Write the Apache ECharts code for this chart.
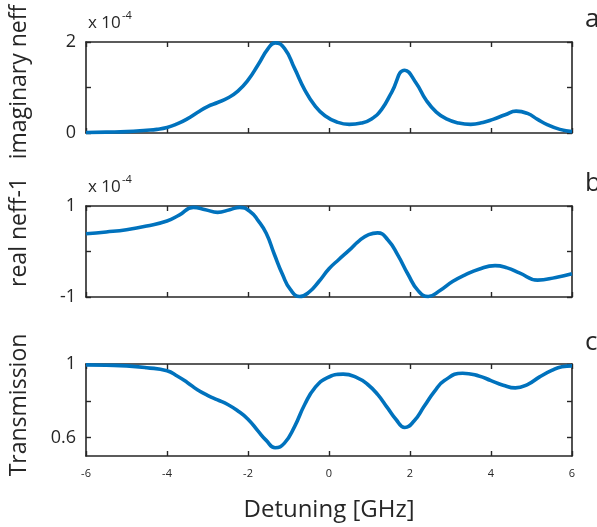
<!DOCTYPE html>
<html>
<head>
<meta charset="utf-8">
<script src="https://cdn.jsdelivr.net/npm/echarts@6/dist/echarts.min.js"></script>
<style>html,body{margin:0;padding:0;background:#fff}#c{width:597px;height:527px}</style>
</head>
<body>
<div id="c"></div>
<script>
// Panel a: imaginary neff (units of 1e-4) vs detuning [GHz]
var imagX = [-6, -5.5, -5, -4.5, -4.25, -4, -3.75, -3.5, -3.25, -3, -2.75, -2.5, -2.25, -2, -1.75, -1.5, -1.33, -1.1, -0.85, -0.6, -0.35, -0.1, 0.2, 0.5, 0.8, 1.05, 1.3, 1.55, 1.87, 2.15, 2.4, 2.65, 2.9, 3.2, 3.5, 3.8, 4.05, 4.35, 4.62, 4.9, 5.15, 5.4, 5.7, 6];
var imagY = [0.01, 0.02, 0.03, 0.06, 0.08, 0.12, 0.2, 0.31, 0.45, 0.58, 0.67, 0.77, 0.92, 1.16, 1.5, 1.86, 1.98, 1.86, 1.42, 0.95, 0.6, 0.38, 0.24, 0.19, 0.22, 0.31, 0.52, 0.9, 1.38, 1.1, 0.72, 0.46, 0.31, 0.22, 0.19, 0.23, 0.3, 0.4, 0.48, 0.43, 0.3, 0.18, 0.08, 0.03];
// Panel b: real neff - 1 (units of 1e-4)
var realX = [-6, -5.5, -5, -4.5, -4, -3.7, -3.35, -3.05, -2.75, -2.45, -2.2, -1.95, -1.75, -1.55, -1.35, -1.15, -0.95, -0.72, -0.5, -0.25, 0, 0.25, 0.5, 0.75, 0.98, 1.2, 1.45, 1.7, 1.95, 2.2, 2.45, 2.75, 3.05, 3.35, 3.7, 4.1, 4.4, 4.7, 5.15, 5.6, 6];
var realY = [0.39, 0.43, 0.48, 0.56, 0.67, 0.8, 0.97, 0.92, 0.86, 0.92, 0.97, 0.88, 0.68, 0.4, -0.06, -0.5, -0.84, -0.99, -0.9, -0.66, -0.38, -0.17, 0.03, 0.24, 0.37, 0.41, 0.26, -0.08, -0.5, -0.86, -0.99, -0.85, -0.66, -0.52, -0.39, -0.31, -0.36, -0.47, -0.63, -0.57, -0.49];
// Panel c: transmission
var transX = [-6, -5.5, -5, -4.5, -4, -3.75, -3.5, -3.25, -3, -2.75, -2.5, -2.25, -2, -1.75, -1.55, -1.33, -1.1, -0.85, -0.6, -0.35, -0.05, 0.35, 0.7, 0.95, 1.2, 1.45, 1.65, 1.87, 2.1, 2.35, 2.6, 2.85, 3.3, 3.7, 4.0, 4.3, 4.6, 4.9, 5.2, 5.5, 5.75, 6];
var transY = [0.995, 0.993, 0.99, 0.98, 0.963, 0.935, 0.9, 0.86, 0.83, 0.805, 0.78, 0.745, 0.70, 0.635, 0.585, 0.545, 0.57, 0.66, 0.78, 0.87, 0.925, 0.945, 0.925, 0.89, 0.835, 0.76, 0.7, 0.655, 0.69, 0.77, 0.85, 0.91, 0.95, 0.935, 0.91, 0.885, 0.87, 0.888, 0.93, 0.965, 0.985, 0.99];
var xTicks = [-6, -4, -2, 0, 2, 4, 6];

var FONT = 'Open Sans';
var AX = '#262626';
var LINE = '#0072BD';

function pairs(xs, ys) { return xs.map(function (x, i) { return [x, ys[i]]; }); }

var grids = [
  { left: 86, right: 25, top: 42, height: 91 },
  { left: 86, right: 25, top: 206, height: 91 },
  { left: 86, right: 25, top: 364, height: 92 }
];
var yCfg = [
  { min: 0, max: 2, ticks: [0, 1, 2], labels: [0, 2] },
  { min: -1, max: 1, ticks: [-1, 0, 1], labels: [-1, 1] },
  { min: 0.5, max: 1, ticks: [0.6, 0.8, 1], labels: [0.6, 1] }
];

var xAxes = [], yAxes = [];
for (var g = 0; g < 3; g++) {
  ['bottom', 'top'].forEach(function (pos) {
    xAxes.push({
      type: 'value', gridIndex: g, position: pos, min: -6, max: 6, interval: 2,
      axisLine: { show: true, onZero: false, lineStyle: { color: AX, width: 1.6 } },
      axisTick: { show: true, inside: true, length: 5, lineStyle: { color: AX, width: 1.4 } },
      axisLabel: { show: pos === 'bottom' && g === 2, fontFamily: FONT, fontSize: 11, color: AX, margin: 12,
        customValues: xTicks },
      splitLine: { show: false }
    });
  });
  (function (cfg) {
    ['left', 'right'].forEach(function (pos) {
      yAxes.push({
        type: 'value', gridIndex: g, position: pos, min: cfg.min, max: cfg.max,
        axisLine: { show: true, onZero: false, lineStyle: { color: AX, width: 1.6 } },
        axisTick: { show: true, inside: true, length: 5, customValues: cfg.ticks, lineStyle: { color: AX, width: 1.4 } },
        axisLabel: { show: pos === 'left', customValues: cfg.labels, formatter: function (v) { return String(v); },
          fontFamily: FONT, fontSize: 18, color: AX, margin: 10 },
        splitLine: { show: false }
      });
    });
  })(yCfg[g]);
}

var datasets = [pairs(imagX, imagY), pairs(realX, realY), pairs(transX, transY)];
var series = datasets.map(function (d, i) {
  return {
    type: 'line', xAxisIndex: i * 2, yAxisIndex: i * 2, data: d, smooth: 0.5,
    showSymbol: false, symbol: 'none', clip: false,
    lineStyle: { color: LINE, width: 3.6 }, animation: false
  };
});

function txt(left, top, text, size, extra) {
  var s = { text: text, fontFamily: FONT, fontSize: size, fill: AX };
  for (var k in extra) s[k] = extra[k];
  return { type: 'text', x: left, y: top, style: s, silent: true };
}
function vtxt(cx, cy, text) {
  return { type: 'text', x: cx, y: cy, rotation: Math.PI / 2, silent: true,
    style: { text: text, fontFamily: FONT, fontSize: 23, fill: AX, textAlign: 'center', textVerticalAlign: 'middle' } };
}

var graphic = [
  txt(88, 32, 'x 10', 17, { textVerticalAlign: 'bottom' }),
  txt(122, 21, '-4', 11, { textVerticalAlign: 'bottom' }),
  txt(88, 196, 'x 10', 17, { textVerticalAlign: 'bottom' }),
  txt(122, 185, '-4', 11, { textVerticalAlign: 'bottom' }),
  txt(585, 33, 'a', 26, { textVerticalAlign: 'bottom' }),
  txt(585, 197, 'b', 26, { textVerticalAlign: 'bottom' }),
  txt(585, 356, 'c', 26, { textVerticalAlign: 'bottom' }),
  txt(329, 510, 'Detuning [GHz]', 24, { textAlign: 'center', textVerticalAlign: 'middle' }),
  vtxt(19, 82, 'imaginary neff'),
  vtxt(19, 232, 'real neff-1'),
  vtxt(19, 405, 'Transmission')
];

var chart = echarts.init(document.getElementById('c'), null, { renderer: 'canvas' });
chart.setOption({
  animation: false,
  backgroundColor: '#ffffff',
  grid: grids,
  xAxis: xAxes,
  yAxis: yAxes,
  series: series,
  graphic: graphic
});
</script>
</body>
</html>
